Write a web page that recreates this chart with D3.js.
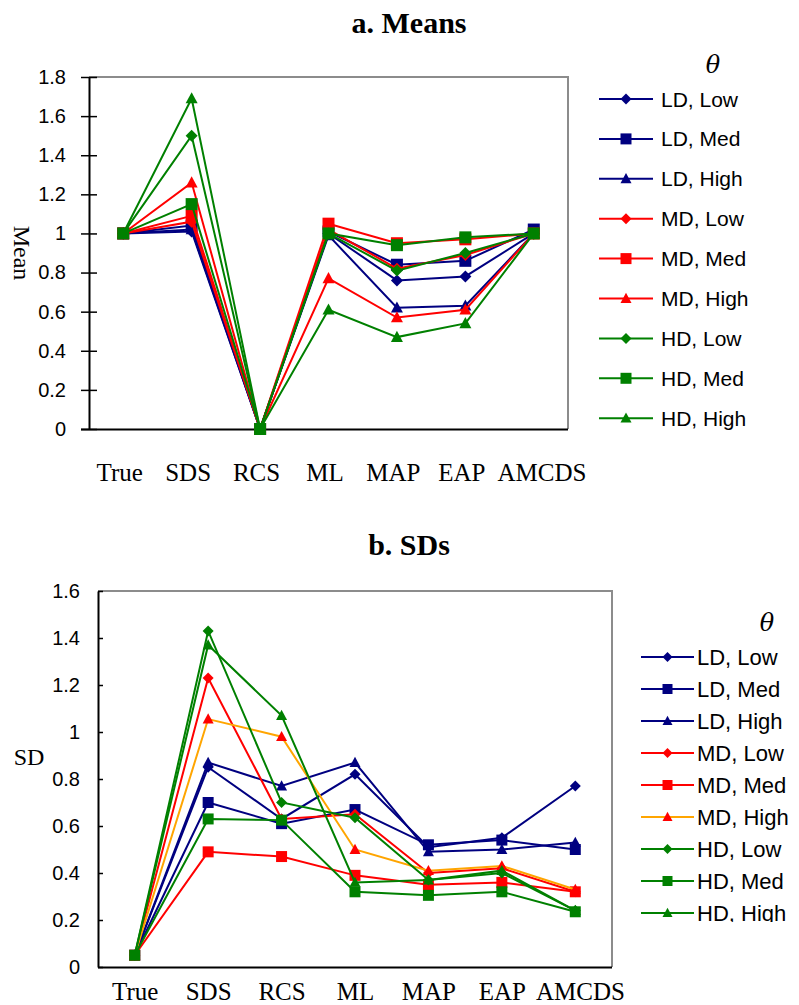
<!DOCTYPE html>
<html>
<head>
<meta charset="utf-8">
<script src="https://cdn.jsdelivr.net/npm/d3@7"></script>
<style>
  html, body { margin: 0; padding: 0; background: #fff; }
  svg { display: block; }
</style>
</head>
<body>
<script>
// Estimator categories along the x axis
const categories = ["True", "SDS", "RCS", "ML", "MAP", "EAP", "AMCDS"];

// Series labels (design condition, theta level)
const seriesNames = ["LD, Low", "LD, Med", "LD, High", "MD, Low", "MD, Med", "MD, High", "HD, Low", "HD, Med", "HD, High"];

// a. Means of the ability estimates
const meanLDLow  = [1, 1.01, 0, 1.00, 0.76, 0.78, 1.00];
const meanLDMed  = [1, 1.04, 0, 1.01, 0.84, 0.86, 1.02];
const meanLDHigh = [1, 1.02, 0, 0.99, 0.62, 0.63, 1.00];
const meanMDLow  = [1, 1.06, 0, 1.02, 0.82, 0.89, 1.00];
const meanMDMed  = [1, 1.09, 0, 1.05, 0.95, 0.97, 1.00];
const meanMDHigh = [1, 1.26, 0, 0.77, 0.57, 0.61, 1.00];
const meanHDLow  = [1, 1.50, 0, 1.00, 0.81, 0.90, 1.00];
const meanHDMed  = [1, 1.15, 0, 1.00, 0.94, 0.98, 1.00];
const meanHDHigh = [1, 1.69, 0, 0.61, 0.47, 0.54, 1.00];

// b. SDs of the ability estimates
const sdLDLow  = [0.05, 0.85, 0.63, 0.82, 0.51, 0.55, 0.77];
const sdLDMed  = [0.05, 0.70, 0.61, 0.67, 0.52, 0.54, 0.50];
const sdLDHigh = [0.05, 0.87, 0.77, 0.87, 0.49, 0.50, 0.53];
const sdMDLow  = [0.05, 1.23, 0.63, 0.65, 0.40, 0.42, 0.32];
const sdMDMed  = [0.05, 0.49, 0.47, 0.39, 0.35, 0.36, 0.32];
const sdMDHigh = [0.05, 1.055, 0.98, 0.50, 0.41, 0.43, 0.33];
const sdHDLow  = [0.05, 1.43, 0.70, 0.635, 0.37, 0.40, 0.24];
const sdHDMed  = [0.05, 0.63, 0.625, 0.32, 0.305, 0.32, 0.235];
const sdHDHigh = [0.05, 1.37, 1.07, 0.36, 0.37, 0.41, 0.24];

// Tick labels
const meanTickLabels = ["0", "0.2", "0.4", "0.6", "0.8", "1", "1.2", "1.4", "1.6", "1.8"];
const sdTickLabels   = ["0", "0.2", "0.4", "0.6", "0.8", "1", "1.2", "1.4", "1.6"];

// Styling per series
const NAVY = "#000080", RED = "#ff0000", GREEN = "#008000", ORANGE = "#ffa500";
const markerColors = [NAVY, NAVY, NAVY, RED, RED, RED, GREEN, GREEN, GREEN];
const shapes = ["diamond", "square", "triangle", "diamond", "square", "triangle", "diamond", "square", "triangle"];
const meanLineColors = markerColors.slice();
const sdLineColors = [NAVY, NAVY, NAVY, RED, RED, ORANGE, GREEN, GREEN, GREEN];

const meanSeries = [meanLDLow, meanLDMed, meanLDHigh, meanMDLow, meanMDMed, meanMDHigh, meanHDLow, meanHDMed, meanHDHigh];
const sdSeries = [sdLDLow, sdLDMed, sdLDHigh, sdMDLow, sdMDMed, sdMDHigh, sdHDLow, sdHDMed, sdHDHigh];

const W = 799, H = 1005;
const svg = d3.select("body").append("svg").attr("width", W).attr("height", H);

function markerPath(shape, s) {
  if (shape === "diamond") return `M0,${-s}L${s},0L0,${s}L${-s},0Z`;
  if (shape === "square") return `M${-s},${-s}H${s}V${s}H${-s}Z`;
  return `M0,${-s * 1.05}L${s},${s * 0.8}L${-s},${s * 0.8}Z`;
}

function drawPanel(cfg) {
  const g = svg.append("g");
  const x = d3.scalePoint().domain(categories).range([cfg.left, cfg.right]).padding(0.5);
  const tickVals = cfg.tickLabels.map(Number);
  const y = d3.scaleLinear().domain([0, d3.max(tickVals)]).range([cfg.bottom, cfg.top]);

  // Title
  g.append("text")
    .attr("x", cfg.titleX).attr("y", cfg.titleY)
    .attr("text-anchor", "middle")
    .style("font-family", "'Liberation Serif', 'Times New Roman', serif")
    .style("font-weight", "bold").style("font-size", "30px")
    .text(cfg.title);

  // Plot frame (grey top/right)
  g.append("path")
    .attr("d", `M${cfg.left},${cfg.top}H${cfg.right}V${cfg.bottom}`)
    .attr("fill", "none").attr("stroke", "#8c8c8c").attr("stroke-width", 2);

  // Y axis
  const yAxis = d3.axisLeft(y)
    .tickValues(tickVals)
    .tickFormat((d, i) => cfg.tickLabels[i])
    .tickSizeInner(cfg.tickInner).tickSizeOuter(0).tickPadding(cfg.tickPad);
  const ya = g.append("g").attr("transform", `translate(${cfg.left},0)`).call(yAxis);
  ya.select(".domain").attr("stroke", "#000").attr("stroke-width", 2);
  ya.selectAll(".tick line").attr("stroke", "#000").attr("stroke-width", 1.5)
    .attr("x1", cfg.tickOut).attr("x2", cfg.tickInside);
  ya.selectAll(".tick text")
    .style("font-family", "'Liberation Sans', Arial, sans-serif")
    .style("font-size", "20px").attr("fill", "#000");

  // X axis (labels only)
  const xAxis = d3.axisBottom(x).tickSize(0).tickPadding(cfg.xPad);
  const xa = g.append("g").attr("transform", `translate(0,${cfg.bottom})`).call(xAxis);
  xa.select(".domain").attr("stroke", "#000").attr("stroke-width", 2)
    .attr("d", `M${cfg.left - cfg.xExtend},0.5H${cfg.right}`);
  const xLabels = xa.selectAll(".tick text")
    .attr("dx", cfg.xDx)
    .style("font-family", "'Liberation Serif', 'Times New Roman', serif")
    .style("font-size", "25px").attr("fill", "#000");

  // Push a category label right when it would run into the one before it
  let prevRight = -Infinity;
  xLabels.each(function () {
    const bb = this.getBBox();
    const tx = +d3.select(this.parentNode).attr("transform").match(/translate\(([-\d.]+)/)[1];
    const left = tx + bb.x;
    const minLeft = prevRight + cfg.labelGap;
    let shift = 0;
    if (left < minLeft) {
      shift = minLeft - left;
      d3.select(this).attr("dx", cfg.xDx + shift);
    }
    prevRight = left + shift + bb.width;
  });

  // Y axis title
  const yt = g.append("text")
    .style("font-family", "'Liberation Serif', 'Times New Roman', serif")
    .style("font-size", "24px")
    .attr("text-anchor", "middle")
    .text(cfg.yTitle);
  if (cfg.yTitleRotate) {
    yt.attr("transform", `translate(${cfg.yTitleX},${cfg.yTitleY}) rotate(90)`).attr("dy", "0.35em");
  } else {
    yt.attr("x", cfg.yTitleX).attr("y", cfg.yTitleY).attr("dy", "0.35em");
  }

  // Series lines and markers
  const line = d3.line().x((d, i) => x(categories[i])).y(d => y(d));
  cfg.series.forEach((vals, si) => {
    const sg = g.append("g");
    sg.append("path").attr("d", line(vals))
      .attr("fill", "none").attr("stroke", cfg.lineColors[si]).attr("stroke-width", 2);
    sg.selectAll("path.mk").data(vals).join("path").attr("class", "mk")
      .attr("transform", (d, i) => `translate(${x(categories[i])},${y(d)})`)
      .attr("d", markerPath(shapes[si], cfg.markerSize))
      .attr("fill", markerColors[si]);
  });

  // Legend
  const lg = g.append("g");
  if (cfg.legendClip) {
    const cid = "clip-" + cfg.id;
    svg.append("defs").append("clipPath").attr("id", cid)
      .append("rect").attr("x", cfg.legLineX1 - 5).attr("y", cfg.legY0 - 60)
      .attr("width", 200).attr("height", cfg.legendClip - (cfg.legY0 - 60));
    lg.attr("clip-path", `url(#${cid})`);
  }
  lg.append("text")
    .attr("x", cfg.thetaX).attr("y", cfg.thetaY).attr("dy", "0.35em")
    .attr("text-anchor", "middle")
    .style("font-family", "'DejaVu Serif', serif").style("font-style", "italic")
    .style("font-size", "24px").style("font-weight", "200")
    .text("θ");
  seriesNames.forEach((name, si) => {
    const yy = cfg.legY0 + si * cfg.legStep;
    lg.append("line")
      .attr("x1", cfg.legLineX1).attr("x2", cfg.legLineX2).attr("y1", yy).attr("y2", yy)
      .attr("stroke", cfg.lineColors[si]).attr("stroke-width", 2);
    lg.append("path")
      .attr("transform", `translate(${(cfg.legLineX1 + cfg.legLineX2) / 2},${yy})`)
      .attr("d", markerPath(shapes[si], cfg.legMarker))
      .attr("fill", markerColors[si]);
    lg.append("text")
      .attr("x", cfg.legTextX).attr("y", yy).attr("dy", "0.36em")
      .style("font-family", "'Liberation Sans', Arial, sans-serif")
      .style("font-size", cfg.legFont + "px")
      .text(name);
  });
}

drawPanel({
  id: "mean", title: "a. Means", titleX: 409, titleY: 33,
  left: 89, right: 568, top: 77, bottom: 429,
  tickLabels: meanTickLabels, tickInner: 8, tickOut: -8, tickInside: 8, tickPad: 15,
  xPad: 34, xDx: -4, xExtend: 8, labelGap: 12,
  yTitle: "Mean", yTitleRotate: true, yTitleX: 22, yTitleY: 253,
  series: meanSeries, lineColors: meanLineColors, markerSize: 6,
  thetaX: 713, thetaY: 65,
  legY0: 99, legStep: 39.9, legLineX1: 599, legLineX2: 653, legTextX: 661, legMarker: 5.5, legFont: 21
});

drawPanel({
  id: "sd", title: "b. SDs", titleX: 409, titleY: 555,
  left: 98, right: 612, top: 591, bottom: 967,
  tickLabels: sdTickLabels, tickInner: 0, tickOut: 0, tickInside: 5, tickPad: 18,
  xPad: 15, xDx: 0, xExtend: 0, labelGap: 10,
  yTitle: "SD", yTitleRotate: false, yTitleX: 29, yTitleY: 757,
  series: sdSeries, lineColors: sdLineColors, markerSize: 5.5,
  thetaX: 767, thetaY: 623,
  legY0: 657, legStep: 32, legLineX1: 641, legLineX2: 694, legTextX: 697, legMarker: 5, legFont: 22,
  legendClip: 922
});
</script>
</body>
</html>
